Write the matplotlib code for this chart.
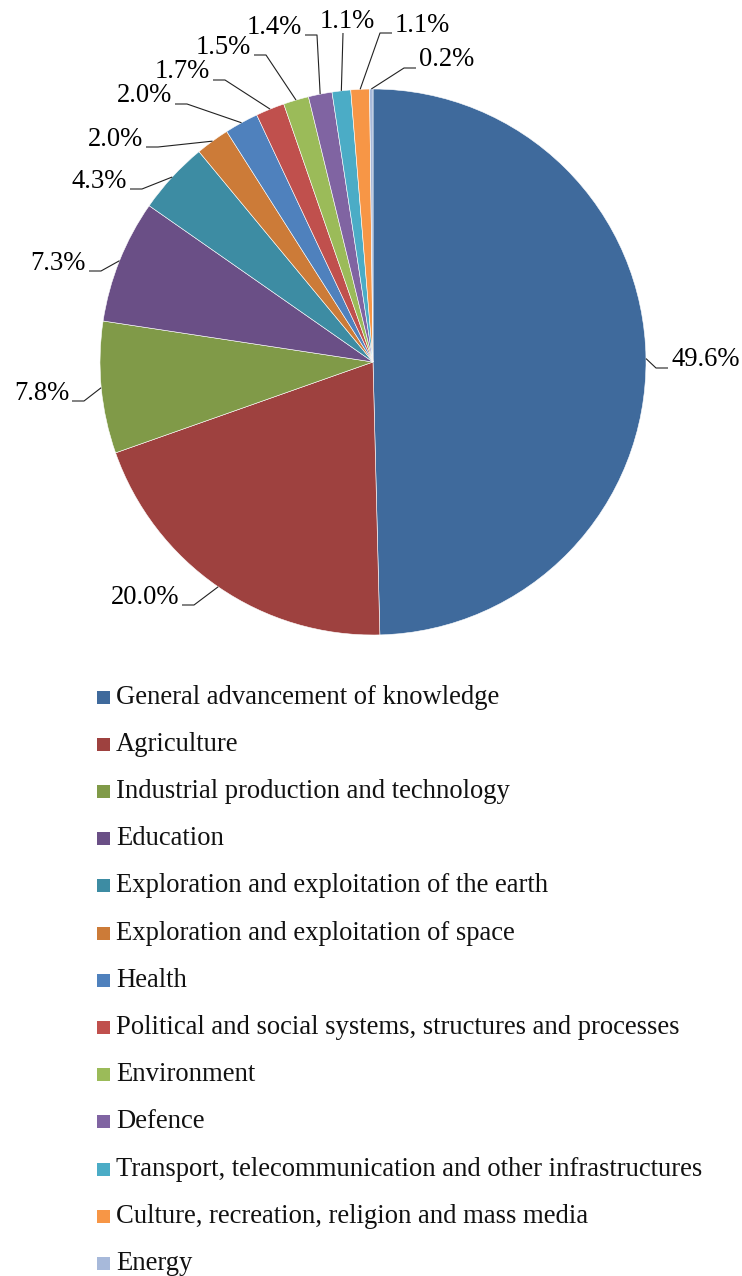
import numpy as np
import matplotlib
matplotlib.use("Agg")
import matplotlib.pyplot as plt
from matplotlib.patches import Rectangle

# data
categories = [
    "General advancement of knowledge",
    "Agriculture",
    "Industrial production and technology",
    "Education",
    "Exploration and exploitation of the earth",
    "Exploration and exploitation of space",
    "Health",
    "Political and social systems, structures and processes",
    "Environment",
    "Defence",
    "Transport, telecommunication and other infrastructures",
    "Culture, recreation, religion and mass media",
    "Energy",
]
shares = [49.6, 20.0, 7.8, 7.3, 4.3, 2.0, 2.0, 1.7, 1.5, 1.4, 1.1, 1.1, 0.2]
colors = ["#3F6A9C", "#9E413F", "#809A48", "#6A4F86", "#3D8CA3", "#CC7B38",
          "#4F81BD", "#C0504D", "#9BBB59", "#8064A2", "#4BACC6", "#F79646",
          "#A7B9DA"]

# label layout in pixel coords: (x, y centre, alignment)
label_pos = [
    (671, 360, "left"), (179, 597, "right"), (69, 393, "right"),
    (86, 263, "right"), (127, 181, "right"), (143, 139, "right"),
    (172, 96, "right"), (210, 72, "right"), (251, 47, "right"),
    (302, 27, "right"), (347, 21, "center"), (395, 25, "left"),
    (419, 60, "left"),
]

W, H = 742, 1276
CX, CY, R = 373, 362, 273
FONT = "Liberation Serif"
FS = 19.2


def py(y):
    return H - y


fig = plt.figure(figsize=(W / 100, H / 100), dpi=100, facecolor="white")
ax = fig.add_axes([0, 0, 1, 1])

wedges, _ = ax.pie(shares, colors=colors, startangle=90, counterclock=False,
                   center=(CX, py(CY)), radius=R, frame=True,
                   wedgeprops=dict(edgecolor="white", linewidth=0.4))
ax.set_xlim(0, W)
ax.set_ylim(0, H)
ax.set_aspect("equal")
ax.axis("off")

# percentage labels with leader lines
for w, val, (tx, ty, ha) in zip(wedges, shares, label_pos):
    ang = np.deg2rad((w.theta1 + w.theta2) / 2)
    ex, ey = CX + R * np.cos(ang), py(CY) + R * np.sin(ang)
    ly = py(ty + 8)
    if ha == "right":
        xs, ys = [tx + 3, tx + 15, ex], [ly, ly, ey]
    elif ha == "left":
        xs, ys = [tx - 3, tx - 15, ex], [ly, ly, ey]
    else:
        xs, ys = [tx - 4, ex], [py(ty + 12), ey]
    ax.plot(xs, ys, color="#222222", lw=0.8, solid_capstyle="butt")
    ax.text(tx, py(ty), f"{val:.1f}%", ha=ha, va="center",
            fontsize=FS, family=FONT, color="black")

# legend
for i, (name, c) in enumerate(zip(categories, colors)):
    y = 697 + i * 47.2
    ax.add_patch(Rectangle((97, py(y) - 6.5), 13, 13, facecolor=c,
                           edgecolor="none"))
    ax.text(116, py(y), name, ha="left", va="center", fontsize=FS,
            family=FONT, color="#111111")

fig.savefig("out.png", dpi=100, facecolor="white")
